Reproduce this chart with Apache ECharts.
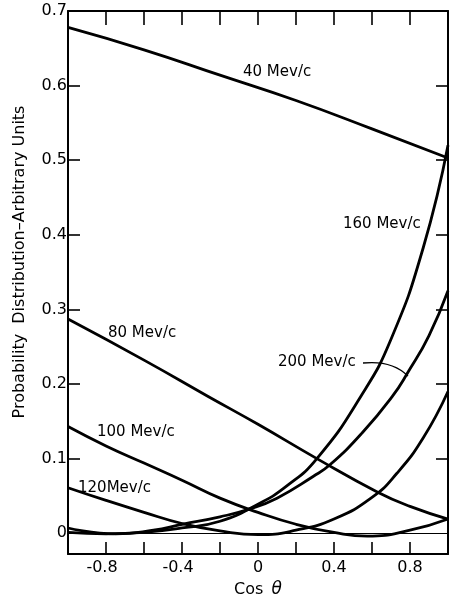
<!DOCTYPE html>
<html>
<head>
<meta charset="utf-8">
<script src="https://cdn.jsdelivr.net/npm/echarts@6/dist/echarts.min.js"></script>
<style>
html,body{margin:0;padding:0;background:#fff;}
#c{width:451px;height:603px;}
</style>
</head>
<body>
<div id="c"></div>
<script>
// ---- data ----
const seriesNames = ['40 Mev/c', '80 Mev/c', '100 Mev/c', '120Mev/c', '160 Mev/c', '200 Mev/c'];

const x40 = [-1, -0.6, -0.2, 0.2, 0.6, 1];
const y40 = [0.678, 0.648, 0.614, 0.580, 0.542, 0.503];

const x80 = [-1, -0.6, -0.26, 0, 0.31, 0.63, 0.8, 1];
const y80 = [0.287, 0.232, 0.183, 0.146, 0.100, 0.055, 0.036, 0.019];

const x100 = [-1, -0.8, -0.6, -0.4, -0.2, 0, 0.2, 0.4, 0.575, 0.8, 1];
const y100 = [0.143, 0.117, 0.094, 0.071, 0.047, 0.028, 0.012, 0.001, -0.004, 0.004, 0.019];

const x120 = [-1, -0.8, -0.6, -0.4, -0.2, 0, 0.2, 0.4, 0.6, 0.73, 0.87, 1];
const y120 = [0.061, 0.044, 0.028, 0.013, 0.003, -0.002, 0.004, 0.019, 0.048, 0.080, 0.128, 0.190];

const x160 = [-1, -0.8, -0.6, -0.4, -0.2, 0, 0.15, 0.31, 0.54, 0.7, 0.87, 1];
const y160 = [0.001, -0.001, 0.001, 0.007, 0.016, 0.039, 0.063, 0.100, 0.183, 0.260, 0.383, 0.520];

const x200 = [-1, -0.75, -0.55, -0.4, -0.2, -0.05, 0.1, 0.29, 0.38, 0.55, 0.706, 0.79, 0.9, 1];
const y200 = [0.007, -0.001, 0.004, 0.012, 0.022, 0.032, 0.047, 0.076, 0.092, 0.135, 0.183, 0.216, 0.265, 0.325];

const xTickVals = [-0.8, -0.6, -0.4, -0.2, 0, 0.2, 0.4, 0.6, 0.8];
const xLabelVals = [-0.8, -0.4, 0, 0.4, 0.8];
const yTickVals = [0, 0.1, 0.2, 0.3, 0.4, 0.5, 0.6];
const yLabelVals = [0, 0.1, 0.2, 0.3, 0.4, 0.5, 0.6, 0.7];
const yRightTickVals = [0.1, 0.2, 0.3, 0.4, 0.5, 0.6];

const xs = [x40, x80, x100, x120, x160, x200];
const ys = [y40, y80, y100, y120, y160, y200];

const FONT = 'DejaVu Sans';
const chart = echarts.init(document.getElementById('c'), null, {renderer: 'canvas'});

const series = seriesNames.map((name, k) => ({
  name: name,
  type: 'line',
  xAxisIndex: 0,
  yAxisIndex: 0,
  data: xs[k].map((x, i) => [x, ys[k][i]]),
  smooth: 0.5,
  showSymbol: false,
  symbol: 'none',
  lineStyle: {color: '#000', width: 2.8},
  silent: true,
  z: 3
}));

// zero reference line
series[0].markLine = {
  silent: true,
  symbol: 'none',
  label: {show: false},
  lineStyle: {color: '#000', width: 1.2, type: 'solid'},
  data: [{yAxis: 0}]
};

const option = {
  backgroundColor: '#fff',
  animation: false,
  grid: {left: 68, right: 3, top: 11, bottom: 45, containLabel: false},
  xAxis: [
    {
      type: 'value', min: -1, max: 1, position: 'bottom',
      axisLine: {onZero: false, lineStyle: {color: '#000', width: 2}},
      axisTick: {show: true, inside: true, length: 12, customValues: xTickVals, lineStyle: {color: '#000', width: 1.6}},
      axisLabel: {
        customValues: xLabelVals, color: '#000', fontSize: 16, fontFamily: FONT, margin: 6,
        formatter: function (v) {
          if (Math.abs(v) < 1e-9) return '0';
          const s = Math.abs(v).toFixed(1);
          return v < 0 ? '{n|-' + s + '}' : s;
        },
        rich: {n: {fontSize: 16, fontFamily: FONT, color: '#000', padding: [0, 8, 0, 0]}}
      },
      splitLine: {show: false},
      name: 'Cos {i|θ}',
      nameLocation: 'middle',
      nameGap: 24,
      nameTextStyle: {
        color: '#000', fontSize: 16, fontFamily: FONT,
        rich: {i: {fontStyle: 'italic', fontSize: 17, fontFamily: FONT, color: '#000', padding: [0, 0, 0, 3]}}
      }
    },
    {
      type: 'value', min: -1, max: 1, position: 'top',
      axisLine: {onZero: false, lineStyle: {color: '#000', width: 2}},
      axisTick: {show: true, inside: true, length: 14, customValues: xTickVals, lineStyle: {color: '#000', width: 1.6}},
      axisLabel: {show: false},
      splitLine: {show: false}
    }
  ],
  yAxis: [
    {
      type: 'value', min: -0.028, max: 0.7, position: 'left',
      axisLine: {show: true, onZero: false, lineStyle: {color: '#000', width: 2}},
      axisTick: {show: true, inside: true, length: 12, customValues: yTickVals, lineStyle: {color: '#000', width: 1.6}},
      axisLabel: {
        customValues: yLabelVals, color: '#000', fontSize: 16, fontFamily: FONT, margin: 1,
        formatter: function (v) { return Math.abs(v) < 1e-9 ? '0' : v.toFixed(1); }
      },
      splitLine: {show: false}
    },
    {
      type: 'value', min: -0.028, max: 0.7, position: 'right',
      axisLine: {show: true, onZero: false, lineStyle: {color: '#000', width: 2}},
      axisTick: {show: true, inside: true, length: 12, customValues: yRightTickVals, lineStyle: {color: '#000', width: 1.6}},
      axisLabel: {show: false},
      splitLine: {show: false}
    }
  ],
  graphic: [
    {type: 'text', x: 243, y: 72, style: {text: seriesNames[0], fontSize: 15, fontFamily: FONT, fill: '#000', align: 'left', verticalAlign: 'middle'}},
    {type: 'text', x: 108, y: 333, style: {text: seriesNames[1], fontSize: 15, fontFamily: FONT, fill: '#000', align: 'left', verticalAlign: 'middle'}},
    {type: 'text', x: 97, y: 432, style: {text: seriesNames[2], fontSize: 15, fontFamily: FONT, fill: '#000', align: 'left', verticalAlign: 'middle'}},
    {type: 'text', x: 78, y: 488, style: {text: seriesNames[3], fontSize: 15, fontFamily: FONT, fill: '#000', align: 'left', verticalAlign: 'middle'}},
    {type: 'text', x: 343, y: 224, style: {text: seriesNames[4], fontSize: 15, fontFamily: FONT, fill: '#000', align: 'left', verticalAlign: 'middle'}},
    {type: 'text', x: 278, y: 362, style: {text: seriesNames[5], fontSize: 15, fontFamily: FONT, fill: '#000', align: 'left', verticalAlign: 'middle'}},
    {type: 'bezierCurve', shape: {x1: 363, y1: 363, cpx1: 392, cpy1: 360, x2: 408, y2: 376},
      style: {stroke: '#000', lineWidth: 1.3, fill: null}},
    {type: 'text', x: 20, y: 262, rotation: Math.PI / 2,
      style: {text: 'Probability  Distribution–Arbitrary Units', fontSize: 16, fontFamily: FONT, fill: '#000', align: 'center', verticalAlign: 'middle'}}
  ],
  series: series
};
chart.setOption(option);
</script>
</body>
</html>
